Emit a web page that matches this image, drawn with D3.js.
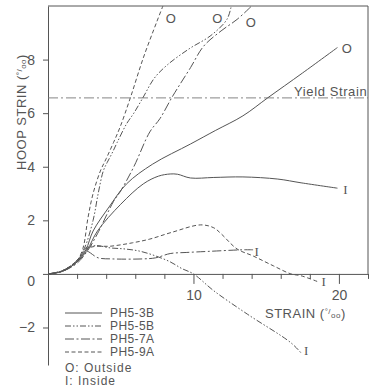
<!DOCTYPE html>
<html>
<head>
<meta charset="utf-8">
<script src="https://cdn.jsdelivr.net/npm/d3@7"></script>
<style>
  body { margin: 0; background: #fff; }
  svg { display: block; font-family: "Liberation Sans", Arial, sans-serif; }
</style>
</head>
<body>
<svg id="chart"></svg>
<script>
// hoop strain vs strain, values in per mille
const ph53bOut = [[0,0],[1,0.1],[2,0.45],[2.6,0.9],[3.1,1.6],[4.2,2.5],[5.4,3.36],[7.2,4.1],[9.8,4.85],[11.5,5.35],[13.4,5.9],[15.1,6.57],[17.5,7.5],[19.9,8.45]];
const ph53bIn = [[0,0],[1,0.1],[2,0.45],[2.7,0.9],[3.4,1.6],[5.0,2.6],[6.55,3.36],[7.6,3.65],[8.4,3.73],[8.9,3.72],[9.8,3.58],[11.4,3.6],[13.4,3.62],[15.8,3.54],[17.4,3.4],[19.9,3.2]];
const ph55bOut = [[0,0],[1,0.12],[2,0.5],[2.5,0.95],[3.1,2.0],[3.45,3.0],[3.8,3.84],[4.06,4.15],[4.4,4.5],[4.75,4.9],[5.4,5.6],[5.9,6.0],[6.55,6.6],[7.3,7.3],[8.2,7.8],[9.7,8.4],[11.2,8.9],[12.3,9.5],[12.6,10]];
const ph55bIn = [[0,0],[1,0.12],[2,0.5],[2.55,0.95],[3.2,1.06],[4.3,0.97],[5.3,0.93],[6.3,0.85],[7.4,0.67],[8.4,0.45],[9.2,0.2],[10,0],[11.4,-0.63],[13.7,-1.5],[16.7,-2.57],[17.4,-2.95]];
const ph57aOut = [[0,0],[1,0.1],[2,0.4],[2.7,0.85],[3.4,1.5],[4.5,2.7],[5.0,3.1],[5.9,4.0],[7.0,5.3],[7.7,5.8],[8.5,6.57],[9.1,7.1],[9.8,7.7],[10.7,8.5],[11.9,9.07],[13.0,9.5],[14.0,10]];
const ph57aIn = [[0,0],[1,0.1],[2,0.45],[2.55,0.86],[3.45,0.6],[4.4,0.56],[6.5,0.56],[7.4,0.6],[8.4,0.76],[9.5,0.8],[11,0.84],[13.4,0.9],[14.1,0.9]];
const ph59aOut = [[0,0],[1,0.12],[2,0.5],[2.4,0.95],[2.75,2.1],[3.1,3.0],[3.6,3.84],[4.0,4.3],[4.5,4.9],[4.97,5.5],[5.66,6.57],[6.55,8.06],[7.5,9.44],[7.9,10]];
const ph59aIn = [[0,0],[1,0.12],[2,0.5],[2.8,0.97],[4.4,1.04],[5.8,1.16],[7.0,1.3],[8.5,1.55],[10.5,1.83],[11.4,1.72],[11.9,1.5],[13.0,0.93],[14.1,0.67],[15.5,0.3],[16.7,0],[17.4,-0.07],[18.6,-0.3]];

const specimens = ['PH5-3B', 'PH5-5B', 'PH5-7A', 'PH5-9A'];
const yieldStrain = 6.57;
const xMajorTicks = [10, 20];
const xMinorTicks = [2, 4, 6, 8, 12, 14, 16, 18, 22];
const yTicks = [-2, 0, 2, 4, 6, 8];

// end labels: O = outside gauge, I = inside gauge
const endLabels = [
  { t: 'O', x: 8.1, y: 9.55 },
  { t: 'O', x: 11.3, y: 9.55 },
  { t: 'O', x: 13.6, y: 9.4 },
  { t: 'O', x: 20.2, y: 8.4 },
  { t: 'I', x: 20.3, y: 3.15 },
  { t: 'I', x: 14.2, y: 0.85 },
  { t: 'I', x: 18.8, y: -0.3 },
  { t: 'I', x: 17.6, y: -2.85 }
];

const ink = '#555';
const dashes = { 'PH5-3B': null, 'PH5-5B': '6,2,1.5,2,1.5,2', 'PH5-7A': '9,2.5,2,2.5', 'PH5-9A': '4,2.5' };
const series = [
  { id: 'PH5-3B', pts: ph53bOut }, { id: 'PH5-3B', pts: ph53bIn },
  { id: 'PH5-5B', pts: ph55bOut }, { id: 'PH5-5B', pts: ph55bIn },
  { id: 'PH5-7A', pts: ph57aOut }, { id: 'PH5-7A', pts: ph57aIn },
  { id: 'PH5-9A', pts: ph59aOut }, { id: 'PH5-9A', pts: ph59aIn }
];

const W = 373, H = 392;
const svg = d3.select('#chart').attr('width', W).attr('height', H);

const x = d3.scaleLinear().domain([0, 22]).range([48, 368]);
const y = d3.scaleLinear().domain([-3.4, 10]).range([365, 6]);

// frame: top and right edges
svg.append('path')
  .attr('d', `M${x(0)},${y(10)}H${x(22)}V${y(0)}`)
  .attr('fill', 'none').attr('stroke', ink).attr('stroke-width', 1);

// x axis along zero
const xMinor = d3.axisBottom(x).tickValues(xMinorTicks).tickSize(5).tickFormat('').tickSizeOuter(0);
const xMajor = d3.axisBottom(x).tickValues(xMajorTicks).tickSize(10).tickPadding(6).tickSizeOuter(0);
svg.append('g').attr('transform', `translate(0,${y(0)})`).call(xMinor);
svg.append('g').attr('transform', `translate(0,${y(0)})`).call(xMajor)
  .call(g => g.select('.domain').remove());

const yAxis = d3.axisLeft(y).tickValues(yTicks).tickSize(5).tickPadding(8).tickSizeOuter(0);
svg.append('g').attr('transform', `translate(${x(0)},0)`).call(yAxis)
  .call(g => g.selectAll('.tick').filter(d => d === 0).select('text').attr('dy', '0.85em'));

svg.selectAll('.domain, .tick line').attr('stroke', ink);
svg.selectAll('.tick text').attr('fill', ink).attr('font-size', 14);

// yield strain line
svg.append('line')
  .attr('x1', x(0)).attr('x2', x(22)).attr('y1', y(yieldStrain)).attr('y2', y(yieldStrain))
  .attr('stroke', '#777').attr('stroke-width', 0.9).attr('stroke-dasharray', '10,3,2,3');
svg.append('text')
  .attr('x', x(21.95)).attr('y', y(yieldStrain) - 2)
  .attr('text-anchor', 'end').attr('font-size', 13).attr('letter-spacing', 0.6)
  .attr('fill', ink).text('Yield Strain');

// curves
const line = d3.line().x(d => x(d[0])).y(d => y(d[1])).curve(d3.curveCatmullRom.alpha(0.5));
svg.append('g').selectAll('path')
  .data(series)
  .join('path')
  .attr('d', d => line(d.pts))
  .attr('fill', 'none')
  .attr('stroke', ink)
  .attr('stroke-width', 1)
  .attr('stroke-dasharray', d => dashes[d.id]);

svg.append('g').selectAll('text')
  .data(endLabels)
  .join('text')
  .attr('x', d => x(d.x)).attr('y', d => y(d.y))
  .attr('dy', '0.35em')
  .attr('font-size', 13)
  .attr('font-family', d => d.t === 'I' ? '"Liberation Serif", serif' : null)
  .attr('fill', ink)
  .text(d => d.t);

// axis titles
const yTitle = svg.append('text')
  .attr('transform', `translate(26,112) rotate(-90)`)
  .attr('text-anchor', 'middle').attr('font-size', 13).attr('letter-spacing', 0.5)
  .attr('fill', ink);
yTitle.append('tspan').text('HOOP STRIN (');
yTitle.append('tspan').attr('font-size', 8).attr('dy', -4).text('°/');
yTitle.append('tspan').attr('font-size', 8).attr('dy', 4).text('oo');
yTitle.append('tspan').text(')');

const xTitle = svg.append('text')
  .attr('x', 265).attr('y', 318)
  .attr('font-size', 13).attr('letter-spacing', 0.5)
  .attr('fill', ink);
xTitle.append('tspan').text('STRAIN (');
xTitle.append('tspan').attr('font-size', 8).attr('dy', -4).text('°/');
xTitle.append('tspan').attr('font-size', 8).attr('dy', 4).text('oo');
xTitle.append('tspan').text(')');

// legend
const legend = svg.append('g');
const rowY = d3.scalePoint().domain(specimens).range([313, 352]);
legend.selectAll('line')
  .data(specimens)
  .join('line')
  .attr('x1', 65).attr('x2', 102)
  .attr('y1', d => rowY(d)).attr('y2', d => rowY(d))
  .attr('stroke', ink).attr('stroke-width', 1)
  .attr('stroke-dasharray', d => dashes[d]);
legend.selectAll('text.spec')
  .data(specimens)
  .join('text')
  .attr('class', 'spec')
  .attr('x', 110).attr('y', d => rowY(d))
  .attr('dy', '0.35em').attr('font-size', 12).attr('letter-spacing', 0.4)
  .attr('fill', ink)
  .text(d => d);
legend.append('text').attr('x', 65).attr('y', 368).attr('dy', '0.35em')
  .attr('font-size', 12).attr('letter-spacing', 1).attr('fill', ink).text('O:  Outside');
legend.append('text').attr('x', 65).attr('y', 381).attr('dy', '0.35em')
  .attr('font-size', 12).attr('letter-spacing', 1).attr('fill', ink).text('I:  Inside');
</script>
</body>
</html>
